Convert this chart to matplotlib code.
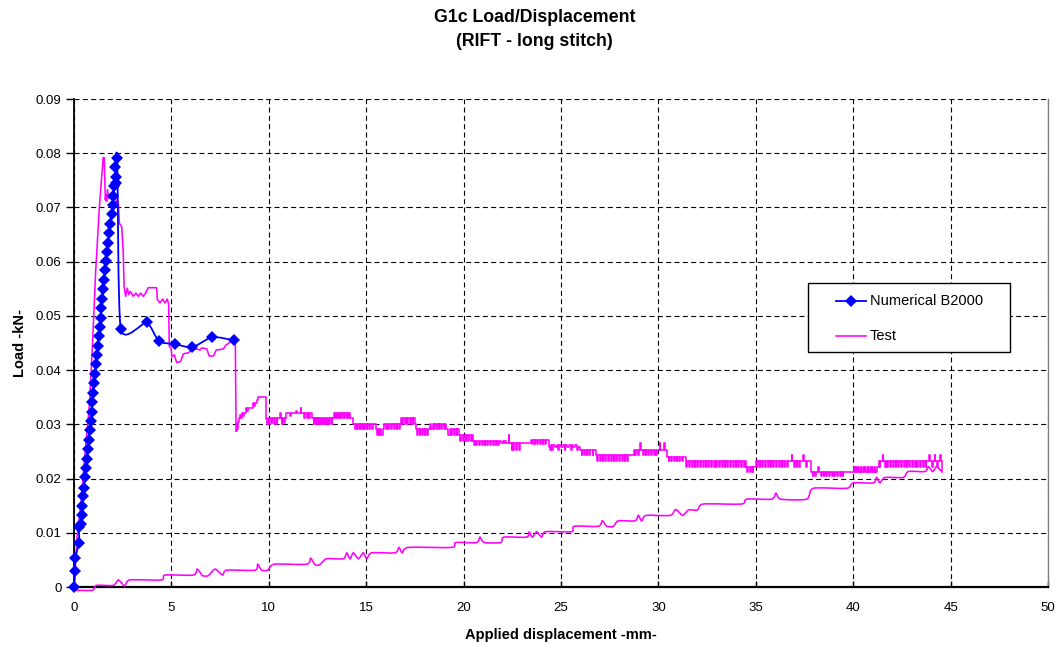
import numpy as np
import matplotlib
matplotlib.use("Agg")
import matplotlib.pyplot as plt
from matplotlib.path import Path
from matplotlib.patches import PathPatch, Rectangle
from matplotlib.lines import Line2D

plt.rcParams['font.family'] = ['Liberation Sans', 'DejaVu Sans']

# ---------------------------------------------------------------- data
# Numerical B2000 load/displacement points
num_disp = [0.00, 0.05, 0.07, 0.26, 0.26, 0.34, 0.41, 0.43, 0.48, 0.51, 0.55, 0.62,
            0.65, 0.70, 0.75, 0.80, 0.86, 0.91, 0.94, 0.99, 1.03, 1.08, 1.11, 1.16,
            1.21, 1.26, 1.31, 1.37, 1.40, 1.45, 1.51, 1.56, 1.59, 1.64, 1.69, 1.75,
            1.80, 1.85, 1.93, 1.98, 2.02, 2.07, 2.14, 2.14, 2.10, 2.22,
            2.40, 3.73, 4.36, 5.18, 6.07, 7.10, 8.21]
num_load = [0.0000, 0.0030, 0.0054, 0.0082, 0.0111, 0.0116, 0.0132, 0.0149, 0.0167,
            0.0183, 0.0202, 0.0219, 0.0236, 0.0254, 0.0271, 0.0289, 0.0306, 0.0323,
            0.0341, 0.0358, 0.0376, 0.0393, 0.0411, 0.0428, 0.0445, 0.0462, 0.0479,
            0.0496, 0.0514, 0.0531, 0.0549, 0.0566, 0.0584, 0.0601, 0.0618, 0.0635,
            0.0653, 0.0670, 0.0688, 0.0705, 0.0721, 0.0739, 0.0745, 0.0757, 0.0774,
            0.0792, 0.0476, 0.0488, 0.0453, 0.0448, 0.0442, 0.0461, 0.0455]

# Test: loading, peak and first softening
test_rise_disp = [0.00, 0.05, 0.14, 0.34, 0.60, 0.80, 0.96, 1.11, 1.30, 1.45, 1.50, 1.55,
                  1.61, 1.64, 1.67, 1.72, 1.77, 1.85, 2.02, 2.10, 2.19, 2.27, 2.33, 2.45,
                  2.53, 2.57, 2.65, 2.74, 2.81, 2.88, 2.96, 3.04, 3.18, 3.30, 3.42, 3.56,
                  3.69, 3.81, 4.24, 4.28, 4.41, 4.55, 4.67, 4.79, 4.86, 4.89, 4.98, 5.03,
                  5.15, 5.27, 5.48, 5.61, 5.87, 6.04, 6.30, 6.47, 6.56, 6.82, 6.94, 7.16,
                  7.30, 7.67, 7.79, 8.01, 8.10, 8.28]
test_rise_load = [0.0000, 0.0020, 0.0087, 0.0148, 0.0260, 0.0340, 0.0456, 0.0580, 0.0700,
                  0.0770, 0.0792, 0.0792, 0.0714, 0.0723, 0.0711, 0.0733, 0.0717, 0.0720,
                  0.0717, 0.0723, 0.0708, 0.0711, 0.0671, 0.0664, 0.0616, 0.0554, 0.0536,
                  0.0551, 0.0539, 0.0545, 0.0542, 0.0536, 0.0542, 0.0536, 0.0542, 0.0536,
                  0.0543, 0.0552, 0.0552, 0.0530, 0.0524, 0.0531, 0.0524, 0.0531, 0.0521,
                  0.0444, 0.0441, 0.0425, 0.0428, 0.0414, 0.0416, 0.0430, 0.0432, 0.0437,
                  0.0439, 0.0437, 0.0441, 0.0439, 0.0426, 0.0426, 0.0437, 0.0439, 0.0446,
                  0.0451, 0.0460, 0.0461]

# Test: stick-slip plateau, (displacement, load) held until the next sample
test_plateau = [
    (8.32, .0288), (8.35, .0300), (8.38, .0291), (8.41, .0305), (8.45, .0311), (8.52, .0318),
    (8.56, .0311), (8.60, .0320), (8.70, .0316), (8.74, .0320), (8.84, .0330), (8.90, .0324),
    (8.94, .0330), (9.18, .0339), (9.24, .0334), (9.28, .0339), (9.38, .0345), (9.46, .0350),
    (9.86, .0309), (9.92, .0300), (9.96, .0311), (10.02, .0300), (10.06, .0311), (10.14, .0302),
    (10.18, .0311), (10.26, .0300), (10.30, .0311), (10.40, .0300), (10.44, .0311), (10.58, .0321),
    (10.61, .0311), (10.66, .0300), (10.70, .0311), (10.80, .0302), (10.84, .0311),
    (10.90, .0320), (11.10, .0315), (11.13, .0320), (11.40, .0324), (11.45, .0320), (11.64, .0330),
    (11.67, .0320), (11.83, .0311), (11.88, .0320), (11.95, .0311), (12.00, .0320), (12.08, .0311),
    (12.14, .0320), (12.22, .0311),
    (12.30, .0300), (12.34, .0311), (12.40, .0300), (12.44, .0311), (12.50, .0300), (12.54, .0311),
    (12.60, .0300), (12.64, .0311), (12.70, .0300), (12.74, .0311), (12.80, .0300), (12.84, .0311),
    (12.90, .0300), (12.94, .0311), (13.00, .0300), (13.04, .0311), (13.10, .0300), (13.14, .0311),
    (13.22, .0300), (13.26, .0311),
    (13.37, .0320), (13.42, .0311), (13.46, .0320), (13.52, .0311), (13.56, .0320), (13.62, .0311),
    (13.66, .0320), (13.72, .0311), (13.76, .0320), (13.84, .0311), (13.88, .0320), (13.96, .0311),
    (14.00, .0320), (14.06, .0311), (14.10, .0320), (14.16, .0311),
    (14.30, .0300), (14.44, .0291), (14.48, .0300), (14.54, .0291), (14.58, .0300), (14.66, .0291),
    (14.70, .0300), (14.78, .0291), (14.82, .0300), (14.90, .0291), (14.94, .0300), (15.02, .0291),
    (15.06, .0300), (15.14, .0291), (15.18, .0300), (15.30, .0291), (15.34, .0300),
    (15.50, .0291), (15.54, .0280), (15.60, .0291), (15.66, .0280), (15.72, .0291), (15.78, .0280),
    (15.84, .0291),
    (15.93, .0300), (16.00, .0291), (16.06, .0300), (16.14, .0291), (16.18, .0300), (16.28, .0291),
    (16.32, .0300), (16.42, .0291), (16.46, .0300), (16.56, .0291), (16.60, .0300), (16.70, .0291),
    (16.74, .0300),
    (16.79, .0311), (16.86, .0300), (16.90, .0311), (16.98, .0300), (17.02, .0311), (17.10, .0300),
    (17.14, .0311), (17.24, .0300), (17.28, .0311), (17.38, .0300), (17.42, .0311), (17.50, .0300),
    (17.56, .0291), (17.62, .0280), (17.66, .0291), (17.74, .0280), (17.78, .0291), (17.86, .0280),
    (17.90, .0291), (18.00, .0280), (18.04, .0291), (18.12, .0280), (18.16, .0291), (18.28, .0300),
    (18.31, .0291),
    (18.41, .0300), (18.46, .0291), (18.50, .0300), (18.58, .0291), (18.62, .0300), (18.72, .0291),
    (18.76, .0300), (18.86, .0291), (18.90, .0300), (19.00, .0291), (19.04, .0300), (19.12, .0291),
    (19.22, .0280), (19.28, .0291), (19.36, .0280), (19.40, .0291), (19.50, .0280), (19.54, .0291),
    (19.64, .0280), (19.68, .0291),
    (19.78, .0280), (19.84, .0270), (19.88, .0280), (19.96, .0270), (20.00, .0280), (20.10, .0270),
    (20.14, .0280), (20.24, .0270), (20.28, .0280), (20.38, .0270), (20.42, .0280),
    (20.46, .0270), (20.52, .0261), (20.56, .0270), (20.66, .0261), (20.70, .0270), (20.80, .0261),
    (20.84, .0270), (20.94, .0261), (20.98, .0270), (21.08, .0261), (21.12, .0270), (21.22, .0261),
    (21.26, .0270), (21.36, .0261), (21.40, .0270), (21.50, .0261), (21.54, .0270), (21.64, .0261),
    (21.68, .0270), (21.78, .0261), (21.82, .0270),
    (21.92, .0265), (22.00, .0270), (22.06, .0265), (22.12, .0270), (22.20, .0265), (22.31, .0280),
    (22.34, .0265), (22.46, .0253), (22.50, .0265), (22.56, .0253), (22.60, .0265), (22.70, .0253),
    (22.74, .0265), (22.84, .0253), (22.88, .0265),
    (23.44, .0271), (23.50, .0264), (23.54, .0271), (23.64, .0264), (23.68, .0271), (23.78, .0264),
    (23.82, .0271), (23.92, .0264), (23.96, .0271), (24.06, .0264), (24.10, .0271), (24.20, .0264),
    (24.24, .0271),
    (24.38, .0259), (24.44, .0253), (24.48, .0262), (24.56, .0253), (24.60, .0262), (24.70, .0259),
    (24.80, .0262), (24.86, .0253), (24.90, .0262), (25.00, .0259), (25.10, .0262), (25.18, .0253),
    (25.22, .0262), (25.30, .0259), (25.40, .0262), (25.50, .0253), (25.54, .0262), (25.62, .0259),
    (25.74, .0262), (25.84, .0253), (25.88, .0259),
    (26.00, .0253), (26.06, .0244), (26.10, .0253), (26.18, .0244), (26.22, .0253), (26.32, .0244),
    (26.36, .0253), (26.46, .0244), (26.50, .0253), (26.62, .0244), (26.66, .0253),
    (26.80, .0244), (26.86, .0233), (26.90, .0244), (27.00, .0233), (27.04, .0244), (27.14, .0233),
    (27.18, .0244), (27.28, .0233), (27.32, .0244), (27.42, .0233), (27.46, .0244), (27.56, .0233),
    (27.60, .0244), (27.70, .0233), (27.74, .0244), (27.84, .0233), (27.88, .0244), (27.98, .0233),
    (28.02, .0244), (28.12, .0233), (28.16, .0244), (28.26, .0233), (28.30, .0244), (28.40, .0233),
    (28.44, .0244),
    (28.75, .0253), (28.80, .0244), (28.84, .0253), (28.94, .0244), (28.98, .0253), (29.08, .0265),
    (29.11, .0253), (29.20, .0244), (29.24, .0253), (29.34, .0244), (29.38, .0253), (29.48, .0244),
    (29.52, .0253), (29.62, .0244), (29.66, .0253), (29.76, .0244), (29.80, .0253), (29.90, .0244),
    (29.94, .0253), (30.06, .0265), (30.09, .0253), (30.30, .0265), (30.33, .0253),
    (30.46, .0240), (30.52, .0232), (30.56, .0240), (30.66, .0232), (30.70, .0240), (30.80, .0232),
    (30.84, .0240), (30.94, .0232), (30.98, .0240), (31.08, .0232), (31.12, .0240), (31.22, .0232),
    (31.26, .0240),
    (31.40, .0233), (31.44, .0222), (31.48, .0233), (31.58, .0222), (31.62, .0233), (31.72, .0222),
    (31.76, .0233), (31.86, .0222), (31.90, .0233), (32.00, .0222), (32.04, .0233), (32.14, .0222),
    (32.18, .0233), (32.28, .0222), (32.32, .0233), (32.42, .0222), (32.46, .0233), (32.56, .0222),
    (32.60, .0233), (32.70, .0222), (32.74, .0233), (32.84, .0222), (32.88, .0233), (32.98, .0222),
    (33.02, .0233), (33.12, .0222), (33.16, .0233), (33.26, .0222), (33.30, .0233), (33.40, .0222),
    (33.44, .0233), (33.54, .0222), (33.58, .0233), (33.68, .0222), (33.72, .0233), (33.82, .0222),
    (33.86, .0233), (33.96, .0222), (34.00, .0233), (34.10, .0222), (34.14, .0233), (34.24, .0222),
    (34.28, .0233), (34.38, .0222), (34.42, .0233),
    (34.50, .0222), (34.56, .0213), (34.60, .0222), (34.70, .0213), (34.74, .0222), (34.84, .0213),
    (34.88, .0222),
    (35.00, .0233), (35.06, .0222), (35.10, .0233), (35.20, .0222), (35.24, .0233), (35.34, .0222),
    (35.38, .0233), (35.48, .0222), (35.52, .0233), (35.62, .0222), (35.66, .0233), (35.76, .0222),
    (35.80, .0233), (35.90, .0222), (35.94, .0233), (36.04, .0222), (36.08, .0233), (36.18, .0222),
    (36.22, .0233), (36.32, .0222), (36.36, .0233), (36.46, .0222), (36.50, .0233), (36.60, .0222),
    (36.64, .0233), (36.84, .0244), (36.87, .0233), (36.96, .0222), (37.00, .0233), (37.10, .0222),
    (37.14, .0233), (37.24, .0222), (37.28, .0233), (37.44, .0244), (37.47, .0233), (37.58, .0222),
    (37.62, .0233),
    (37.85, .0213), (37.92, .0204), (37.96, .0213), (38.06, .0204), (38.10, .0213), (38.20, .0222),
    (38.24, .0213), (38.34, .0204), (38.38, .0213), (38.48, .0204), (38.52, .0213), (38.62, .0204),
    (38.66, .0213), (38.76, .0204), (38.80, .0213), (38.90, .0204), (38.94, .0213), (39.04, .0204),
    (39.08, .0213), (39.18, .0204), (39.22, .0213), (39.32, .0204), (39.36, .0213), (39.46, .0204),
    (39.50, .0213),
    (40.04, .0222), (40.08, .0213), (40.14, .0222), (40.18, .0213), (40.26, .0222), (40.30, .0213),
    (40.38, .0222), (40.42, .0213), (40.50, .0222), (40.54, .0213), (40.62, .0222), (40.66, .0213),
    (40.74, .0222), (40.78, .0213), (40.86, .0222), (40.90, .0213), (40.98, .0222), (41.02, .0213),
    (41.10, .0222), (41.14, .0213), (41.22, .0222),
    (41.30, .0233), (41.36, .0222), (41.40, .0233), (41.52, .0244), (41.55, .0233), (41.62, .0222),
    (41.66, .0233), (41.76, .0222), (41.80, .0233), (41.90, .0222), (41.94, .0233), (42.04, .0222),
    (42.08, .0233), (42.18, .0222), (42.22, .0233), (42.32, .0222), (42.36, .0233), (42.46, .0222),
    (42.50, .0233), (42.60, .0222), (42.64, .0233), (42.74, .0222), (42.78, .0233), (42.88, .0222),
    (42.92, .0233), (43.02, .0222), (43.06, .0233), (43.16, .0222), (43.20, .0233), (43.30, .0222),
    (43.34, .0233), (43.44, .0222), (43.48, .0233), (43.58, .0222), (43.62, .0233), (43.72, .0222),
    (43.76, .0233), (43.90, .0244), (43.93, .0233), (44.04, .0222), (44.08, .0233), (44.18, .0244),
    (44.21, .0233), (44.30, .0222), (44.34, .0233), (44.46, .0244), (44.50, .0233), (44.55, .0213),
]

# Test: return trace (left to right)
test_back_disp = [0.00, 0.95, 1.15, 2.02, 2.28, 2.60, 2.87, 4.50, 4.67, 6.13, 6.33, 6.60,
                  6.90, 7.24, 7.63, 7.84, 9.29, 9.43, 9.63, 9.95, 10.27, 11.94, 12.15,
                  12.37, 12.60, 12.97, 13.83, 14.00, 14.17, 14.34, 14.60, 14.85, 15.03,
                  15.28, 16.48, 16.68, 16.85, 17.16, 19.39, 19.60, 20.67, 20.84, 21.06,
                  21.90, 22.07, 23.24, 23.36, 23.53, 23.75, 24.00, 24.21, 25.55, 25.68,
                  26.92, 27.12, 27.35, 27.69, 27.94, 28.80, 28.97, 29.14, 29.36, 30.60,
                  30.89, 31.25, 31.54, 32.00, 32.30, 34.27, 34.53, 35.81, 36.04, 36.28,
                  37.61, 37.95, 39.67, 40.00, 41.03, 41.20, 41.37, 41.63, 42.57, 42.83,
                  43.69, 43.86, 44.08, 44.28, 44.54]
test_back_load = [-0.0006, -0.0006, 0.0003, 0.0003, 0.0013, 0.0002, 0.0013, 0.0013, 0.0022,
                  0.0022, 0.0033, 0.0021, 0.0021, 0.0033, 0.0022, 0.0031, 0.0031, 0.0042,
                  0.0031, 0.0031, 0.0042, 0.0042, 0.0053, 0.0041, 0.0041, 0.0052, 0.0052,
                  0.0063, 0.0052, 0.0063, 0.0052, 0.0063, 0.0052, 0.0063, 0.0063, 0.0073,
                  0.0063, 0.0073, 0.0073, 0.0082, 0.0082, 0.0092, 0.0082, 0.0082, 0.0092,
                  0.0092, 0.0102, 0.0092, 0.0102, 0.0092, 0.0102, 0.0102, 0.0112, 0.0112,
                  0.0122, 0.0112, 0.0112, 0.0122, 0.0122, 0.0132, 0.0122, 0.0132, 0.0132,
                  0.0143, 0.0132, 0.0142, 0.0142, 0.0153, 0.0153, 0.0162, 0.0162, 0.0173,
                  0.0162, 0.0162, 0.0182, 0.0182, 0.0192, 0.0192, 0.0202, 0.0192, 0.0202,
                  0.0202, 0.0213, 0.0213, 0.0222, 0.0213, 0.0222, 0.0213]

x_ticks = [0, 5, 10, 15, 20, 25, 30, 35, 40, 45, 50]
y_ticks = [0, 0.01, 0.02, 0.03, 0.04, 0.05, 0.06, 0.07, 0.08, 0.09]
y_tick_labels = ['0', '0.01', '0.02', '0.03', '0.04', '0.05', '0.06', '0.07', '0.08', '0.09']
series_names = ['Numerical B2000', 'Test']

BLUE = '#0000FF'
MAGENTA = '#FF00FF'


def smooth_path(xs, ys, k=1.0 / 6.0):
    """Cardinal-spline (Bezier) path through the given points."""
    pts = np.column_stack([xs, ys]).astype(float)
    n = len(pts)
    verts = [pts[0]]
    codes = [Path.MOVETO]
    for i in range(n - 1):
        p0 = pts[i - 1] if i > 0 else pts[i]
        p1 = pts[i]
        p2 = pts[i + 1]
        p3 = pts[i + 2] if i + 2 < n else pts[i + 1]
        verts += [p1 + (p2 - p0) * k, p2 - (p3 - p1) * k, p2]
        codes += [Path.CURVE4] * 3
    return Path(verts, codes)


plat_disp = [p[0] for p in test_plateau]
plat_load = [p[1] for p in test_plateau]

# ---------------------------------------------------------------- figure
W, H = 1059, 646
fig = plt.figure(figsize=(W / 100, H / 100), dpi=100)
ax = fig.add_axes([74 / W, 1 - 587 / H, 974 / W, 488 / H])

# Test curve
TLW = 1.15
ax.plot(test_rise_disp, test_rise_load, color=MAGENTA, lw=TLW, zorder=3)
ax.plot([test_rise_disp[-1], plat_disp[0]], [test_rise_load[-1], plat_load[0]],
        color=MAGENTA, lw=TLW, zorder=3)
ax.plot(plat_disp, plat_load, color=MAGENTA, lw=TLW, drawstyle='steps-post', zorder=3)
ax.add_patch(PathPatch(smooth_path(test_back_disp, test_back_load, 0.12),
                       facecolor='none', edgecolor=MAGENTA, lw=TLW, zorder=3, clip_on=False))
ax.plot([test_back_disp[-1], plat_disp[-1]], [test_back_load[-1], plat_load[-1]],
        color=MAGENTA, lw=TLW, zorder=3)

# Numerical curve: smoothed line with diamond markers
ax.add_patch(PathPatch(smooth_path(num_disp, num_load, 0.1),
                       facecolor='none', edgecolor=BLUE, lw=1.3, zorder=4))
ax.plot(num_disp, num_load, linestyle='none', marker='D', ms=6,
        color=BLUE, markeredgewidth=0, zorder=5, clip_on=False)

# axes styling
ax.set_xlim(0, 50)
ax.set_ylim(0, 0.09)
ax.set_xticks(x_ticks)
ax.set_xticklabels([str(v) for v in x_ticks])
ax.set_yticks(y_ticks)
ax.set_yticklabels(y_tick_labels)
ax.tick_params(axis='both', labelsize=9.5, colors='black')
ax.tick_params(axis='y', direction='out', length=6, width=1, pad=3)
ax.tick_params(axis='x', direction='in', length=4, width=1, pad=11)

ax.set_axisbelow(True)
ax.grid(True, color='black', linestyle=(0, (4.5, 3)), linewidth=0.8)
ax.spines['top'].set_visible(False)
ax.spines['right'].set_color('#808080')
ax.spines['right'].set_linewidth(1.0)
ax.spines['left'].set_linewidth(1.3)
ax.spines['bottom'].set_linewidth(1.6)

ax.set_xlabel('Applied displacement -mm-', fontsize=10.5, fontweight='bold', labelpad=10)
ax.set_ylabel('Load -kN-', fontsize=10.5, fontweight='bold', labelpad=6)

fig.text(0.505, 1 - 17 / H, 'G1c Load/Displacement', ha='center', va='center',
         fontsize=12.8, fontweight='bold')
fig.text(0.505, 1 - 42 / H, '(RIFT - long stitch)', ha='center', va='center',
         fontsize=12.8, fontweight='bold')

# legend box, laid out in axes fractions
def ax_frac(px, py):
    return ((px - 74) / 974, (587 - py) / 488)

x0, y0 = ax_frac(808, 352)
x1, y1 = ax_frac(1010, 283)
ax.add_patch(Rectangle((x0, y0), x1 - x0, y1 - y0, transform=ax.transAxes,
                       facecolor='white', edgecolor='black', lw=1.0, zorder=6))
hx0, _ = ax_frac(836, 0)
hx1, _ = ax_frac(866, 0)
tx, _ = ax_frac(870, 0)
for (row_py, name, color, lw, marker) in [(301, series_names[0], BLUE, 1.3, 'D'),
                                          (336, series_names[1], MAGENTA, TLW, None)]:
    _, ry = ax_frac(0, row_py)
    ax.add_line(Line2D([hx0, hx1], [ry, ry], transform=ax.transAxes, color=color,
                       lw=lw, zorder=7))
    if marker:
        ax.add_line(Line2D([(hx0 + hx1) / 2], [ry], transform=ax.transAxes, color=color,
                           marker=marker, ms=6, markeredgewidth=0, zorder=7))
    ax.text(tx, ry, name, transform=ax.transAxes, ha='left', va='center',
            fontsize=10.5, zorder=7)

fig.savefig('out.png', dpi=100)
